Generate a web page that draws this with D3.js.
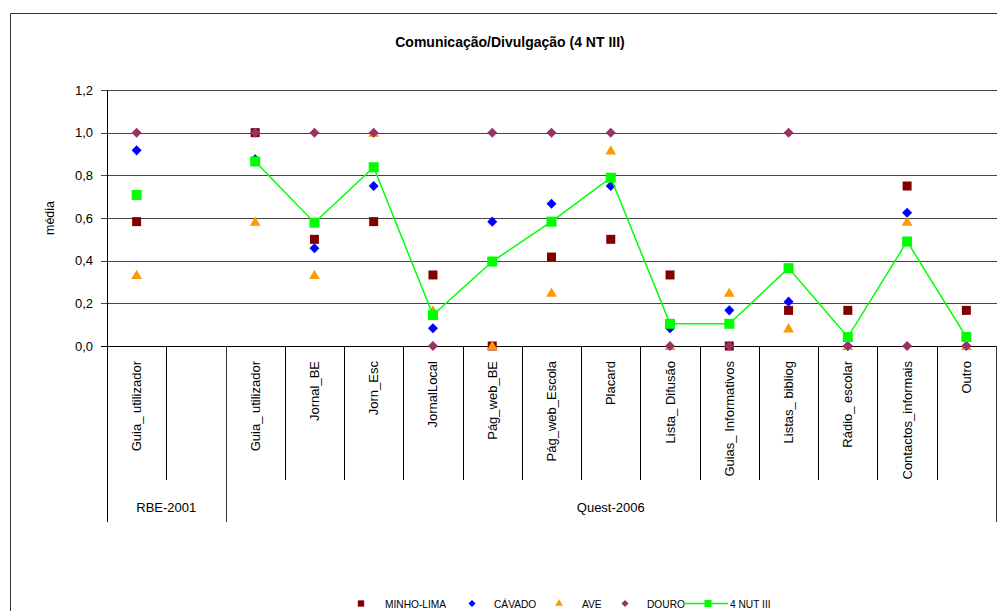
<!DOCTYPE html>
<html><head><meta charset="utf-8">
<script src="https://cdn.jsdelivr.net/npm/d3@7"></script>
<style>body{margin:0;background:#fff;}svg{display:block;font-family:"Liberation Sans",Arial,sans-serif;}</style>
</head><body>
<script>
const categories = ["Guia_ utilizador","","Guia_ utilizador","Jornal_BE","Jorn_Esc","JornalLocal","Pág_web_BE","Pág_web_Escola","Placard","Lista_ Difusão","Guias_ Informativos","Listas_ bibliog","Rádio_ escolar","Contactos_informais","Outro"];
const groupNames = ["RBE-2001","Quest-2006"];
const groupSizes = [2,13];
const minhoLima = [0.583,null,1.0,0.5,0.583,0.333,0,0.417,0.5,0.333,0,0.167,0.167,0.75,0.167];
const cavado    = [0.917,null,0.875,0.458,0.75,0.083,0.583,0.667,0.75,0.083,0.167,0.208,0,0.625,0];
const ave       = [0.333,null,0.583,0.333,1.0,0.167,0,0.25,0.917,0,0.25,0.083,0,0.583,0];
const douro     = [1,null,1,1,1,0,1,1,1,0,0,1,0,0,0];
const nut4      = [0.708,null,0.865,0.578,0.838,0.145,0.396,0.583,0.789,0.104,0.104,0.365,0.042,0.49,0.042];
const yTicks = [0,0.2,0.4,0.6,0.8,1.0,1.2];

const W=997,H=611;
const svg=d3.select("body").append("svg").attr("width",W).attr("height",H);
const L=107,R=996,T=90,B=346;
const x=d3.scaleBand().domain(d3.range(categories.length)).range([L,R]);
const y=d3.scaleLinear().domain([0,1.2]).range([B,T]);
const fmt=v=>d3.format(".1f")(v).replace(".",",");

// outer border
svg.append("path").attr("d",`M10.5,${H} V13.5 H${W}`).attr("fill","none").attr("stroke","#333").attr("stroke-width",1);

svg.append("text").attr("x",510).attr("y",47).attr("text-anchor","middle")
  .attr("font-size",14).attr("font-weight","bold").text("Comunicação/Divulgação (4 NT III)");

// y axis labels
const yAxis=d3.axisLeft(y).tickValues(yTicks).tickFormat(fmt).tickSize(0).tickPadding(14);
const gy=svg.append("g").attr("transform",`translate(${L},0)`).call(yAxis);
gy.select(".domain").remove();
gy.selectAll("text").attr("font-size",13).attr("fill","#000").attr("font-family","Liberation Sans, Arial");
// gridlines
svg.append("g").selectAll("line").data(yTicks).join("line")
  .attr("x1",101).attr("x2",W).attr("y1",d=>Math.round(y(d))+0.5).attr("y2",d=>Math.round(y(d))+0.5)
  .attr("stroke",d=>d===0?"#000":"#444").attr("stroke-width",1);
// y axis line
svg.append("line").attr("x1",L+0.5).attr("x2",L+0.5).attr("y1",T).attr("y2",522).attr("stroke","#000");

svg.append("text").attr("transform",`translate(54,218) rotate(-90)`).attr("text-anchor","middle")
  .attr("font-size",12.5).text("média");

// category dividers
const bw=x.bandwidth();
svg.append("g").selectAll("line").data(d3.range(1,categories.length+1)).join("line")
  .attr("x1",i=>Math.round(L+i*bw)+0.5).attr("x2",i=>Math.round(L+i*bw)+0.5)
  .attr("y1",B).attr("y2",480).attr("stroke","#000");
// group dividers
let acc=0;const gb=[];
groupSizes.forEach((s,i)=>{gb.push({name:groupNames[i],start:acc,end:acc+s});acc+=s;});
svg.append("g").selectAll("line").data(gb).join("line")
  .attr("x1",g=>Math.round(L+g.end*bw)+0.5).attr("x2",g=>Math.round(L+g.end*bw)+0.5)
  .attr("y1",B).attr("y2",522).attr("stroke","#333");
svg.append("g").selectAll("text").data(gb).join("text")
  .attr("x",g=>L+(g.start+g.end)/2*bw).attr("y",512).attr("text-anchor","middle")
  .attr("font-size",13).text(g=>g.name);

// category labels
svg.append("g").selectAll("text").data(categories).join("text")
  .attr("transform",(d,i)=>`translate(${x(i)+bw/2+4.5},361) rotate(-90)`)
  .attr("text-anchor","end").attr("font-size",13).text(d=>d);

// series
const series=[
  {name:"MINHO-LIMA",vals:minhoLima,color:"#800000",shape:"square",size:81},
  {name:"CÁVADO",vals:cavado,color:"#0000FF",shape:"diamond",size:64},
  {name:"AVE",vals:ave,color:"#FF9900",shape:"triangle",size:50},
  {name:"DOURO",vals:douro,color:"#993366",shape:"diamond",size:64},
  {name:"4 NUT III",vals:nut4,color:"#00FF00",shape:"square",size:100,line:true}
];
function sym(shape,sz){
  const t=shape==="square"?d3.symbolSquare:shape==="diamond"?d3.symbolDiamond2:d3.symbolTriangle;
  return d3.symbol().type(t).size(sz)();
}
series.forEach(s=>{
  const g=svg.append("g");
  if(s.line){
    const line=d3.line().defined(d=>d!=null).x((d,i)=>x(i)+bw/2).y(d=>y(d));
    const pts=s.vals.map((v,i)=>i<2?null:v);
    g.append("path").attr("d",line(pts)).attr("fill","none").attr("stroke",s.color).attr("stroke-width",1.5);
  }
  g.selectAll("path.m").data(s.vals.map((v,i)=>({v,i})).filter(d=>d.v!=null)).join("path").attr("class","m")
    .attr("transform",d=>`translate(${x(d.i)+bw/2},${y(d.v)+(s.shape==="triangle"?1:0)})`)
    .attr("d",sym(s.shape,s.size)).attr("fill",s.color);
});

// legend
const leg=[{mx:361,tx:385},{mx:472,tx:494},{mx:559,tx:582},{mx:625,tx:647},{mx:708,tx:730}];
series.forEach((s,i)=>{
  const l=leg[i];const g=svg.append("g");
  if(s.line){
    g.append("line").attr("x1",683).attr("x2",728).attr("y1",603.5).attr("y2",603.5).attr("stroke",s.color).attr("stroke-width",1.5);
  }
  g.append("path").attr("transform",`translate(${l.mx},${603.5})`).attr("d",sym(s.shape,s.size*0.5)).attr("fill",s.color);
  g.append("text").attr("x",l.tx).attr("y",607.5).attr("font-size",10.2).text(s.name);
});
</script>
</body></html>
